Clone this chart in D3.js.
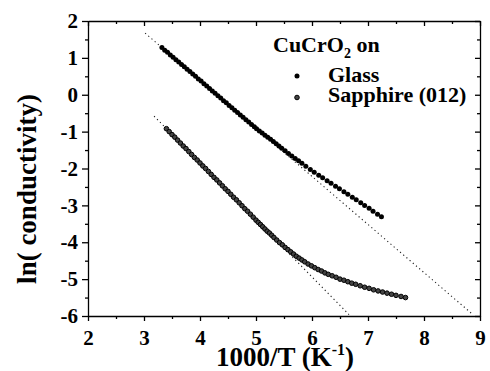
<!DOCTYPE html>
<html>
<head>
<meta charset="utf-8">
<script src="https://cdn.jsdelivr.net/npm/d3@7"></script>
<style>
  body { margin: 0; background: #fff; }
  svg { display: block; }
  text { font-family: "Liberation Serif", "Times New Roman", serif; font-weight: bold; fill: #000; }
</style>
</head>
<body>
<svg id="chart" width="490" height="371"></svg>
<script>
// values (x = 1000/T, y = ln conductivity)
const glassX = [3.32,3.37,3.42,3.47,3.52,3.57,3.62,3.67,3.72,3.77,3.82,3.87,3.92,3.97,4.02,4.07,4.12,4.17,4.22,4.27,4.32,4.37,4.42,4.47,4.52,4.57,4.62,4.67,4.72,4.77,4.82,4.87,4.92,4.97,
  5.01,5.06,5.11,5.16,5.21,5.26,5.31,5.36,5.41,5.46,5.52,5.58,5.64,5.70,5.76,5.82,5.89,5.97,6.04,6.12,6.19,6.27,6.34,6.42,6.49,6.57,6.64,6.72,6.79,6.87,6.94,7.02,7.09,7.17,7.24];
const glassY = [1.28,1.21,1.15,1.08,1.02,0.95,0.89,0.82,0.76,0.69,0.63,0.56,0.50,0.43,0.37,0.30,0.24,0.17,0.10,0.04,-0.03,-0.09,-0.16,-0.22,-0.29,-0.35,-0.42,-0.48,-0.55,-0.61,-0.68,-0.74,-0.81,-0.87,
  -0.92,-0.98,-1.04,-1.10,-1.15,-1.21,-1.27,-1.33,-1.39,-1.45,-1.52,-1.59,-1.66,-1.73,-1.79,-1.86,-1.94,-2.03,-2.10,-2.18,-2.25,-2.33,-2.40,-2.48,-2.55,-2.63,-2.70,-2.78,-2.85,-2.93,-3.00,-3.08,-3.16,-3.24,-3.31];

const sapphireX = [3.40,3.45,3.50,3.55,3.60,3.65,3.70,3.75,3.80,3.85,3.90,3.95,4.00,4.05,4.10,4.15,4.20,4.25,4.30,4.35,4.40,4.45,4.50,4.55,4.60,4.65,4.70,4.75,4.80,4.85,4.90,4.95,5.00,
  5.04,5.08,5.12,5.16,5.20,5.24,5.28,5.32,5.37,5.42,5.47,5.52,5.57,5.62,5.67,5.72,5.77,5.82,5.87,5.93,5.99,6.05,6.11,6.17,6.23,6.29,6.36,6.43,6.50,6.57,6.64,6.71,6.78,6.86,6.94,7.02,7.10,7.18,7.26,7.34,7.42,7.50,7.59,7.67];
const sapphireY = [-0.92,-1.00,-1.08,-1.15,-1.23,-1.31,-1.39,-1.46,-1.54,-1.62,-1.70,-1.77,-1.85,-1.93,-2.00,-2.08,-2.16,-2.24,-2.31,-2.39,-2.47,-2.55,-2.62,-2.70,-2.78,-2.85,-2.93,-3.01,-3.09,-3.16,-3.24,-3.32,-3.40,
  -3.46,-3.52,-3.58,-3.64,-3.70,-3.75,-3.81,-3.87,-3.94,-4.01,-4.07,-4.14,-4.20,-4.26,-4.32,-4.38,-4.43,-4.48,-4.53,-4.59,-4.64,-4.69,-4.74,-4.78,-4.83,-4.87,-4.91,-4.95,-5.00,-5.03,-5.07,-5.11,-5.14,-5.18,-5.22,-5.25,-5.29,-5.32,-5.35,-5.38,-5.41,-5.44,-5.47,-5.50];

// straight-line (Arrhenius) fits, end points
const glassFitX = [3.02, 8.88];
const glassFitY = [1.67, -5.97];
const sapphireFitX = [3.18, 6.66];
const sapphireFitY = [-0.58, -5.96];

const xTicks = [2, 3, 4, 5, 6, 7, 8, 9];
const xMinor = [2.5, 3.5, 4.5, 5.5, 6.5, 7.5, 8.5];
const yTicks = [-6, -5, -4, -3, -2, -1, 0, 1, 2];
const yMinor = [-5.5, -4.5, -3.5, -2.5, -1.5, -0.5, 0.5, 1.5];

const margin = {left: 88, top: 21, right: 10, bottom: 55};
const width = 490 - margin.left - margin.right;
const height = 371 - margin.top - margin.bottom;

const svg = d3.select("#chart");
const g = svg.append("g").attr("transform", "translate(" + margin.left + "," + margin.top + ")");

const x = d3.scaleLinear().domain([2, 9]).range([0, width]);
const y = d3.scaleLinear().domain([-6, 2]).range([height, 0]);

// fit lines
function fitLine(xs, ys) {
  g.append("line")
    .attr("x1", x(xs[0])).attr("y1", y(ys[0]))
    .attr("x2", x(xs[1])).attr("y2", y(ys[1]))
    .attr("stroke", "#222")
    .attr("stroke-width", 1.1)
    .attr("stroke-dasharray", "1.2,3");
}
fitLine(glassFitX, glassFitY);
fitLine(sapphireFitX, sapphireFitY);

// data points
g.append("g").selectAll("circle")
  .data(sapphireX.map((v, i) => [v, sapphireY[i]]))
  .enter().append("circle")
  .attr("cx", d => x(d[0])).attr("cy", d => y(d[1]))
  .attr("r", 2.3)
  .attr("fill", "#444")
  .attr("stroke", "#000")
  .attr("stroke-width", 1);

g.append("g").selectAll("circle")
  .data(glassX.map((v, i) => [v, glassY[i]]))
  .enter().append("circle")
  .attr("cx", d => x(d[0])).attr("cy", d => y(d[1]))
  .attr("r", 2.5)
  .attr("fill", "#000");

// axes
function styleAxis(sel, size) {
  sel.attr("font-family", "Liberation Serif")
    .attr("font-weight", "bold")
    .attr("font-size", size);
  sel.selectAll("path, line").attr("stroke", "#000").attr("stroke-width", 1.3);
  sel.selectAll("text")
    .attr("font-family", "Liberation Serif")
    .attr("font-weight", "bold")
    .attr("font-size", size);
}
const fmt = d => String(d);

g.append("g").attr("transform", "translate(0," + height + ")")
  .call(d3.axisBottom(x).tickValues(xTicks).tickSize(5).tickSizeOuter(0).tickPadding(9).tickFormat(fmt))
  .call(s => styleAxis(s, 21));
g.append("g").attr("transform", "translate(0," + height + ")")
  .call(d3.axisBottom(x).tickValues(xMinor).tickSize(3).tickFormat(""))
  .call(s => { styleAxis(s, 10); s.select(".domain").remove(); });

g.append("g")
  .call(d3.axisLeft(y).tickValues(yTicks).tickSize(6).tickSizeOuter(0).tickPadding(4).tickFormat(fmt))
  .call(s => styleAxis(s, 21));
g.append("g")
  .call(d3.axisLeft(y).tickValues(yMinor).tickSize(3).tickFormat(""))
  .call(s => { styleAxis(s, 10); s.select(".domain").remove(); });

// mirrored top / right axes, ticks inside
g.append("g")
  .call(d3.axisBottom(x).tickValues(xTicks).tickSize(5).tickSizeOuter(0).tickFormat(""))
  .call(s => styleAxis(s, 10));
g.append("g")
  .call(d3.axisBottom(x).tickValues(xMinor).tickSize(3).tickFormat(""))
  .call(s => { styleAxis(s, 10); s.select(".domain").remove(); });
g.append("g").attr("transform", "translate(" + width + ",0)")
  .call(d3.axisLeft(y).tickValues(yTicks).tickSize(5).tickSizeOuter(0).tickFormat(""))
  .call(s => styleAxis(s, 10));
g.append("g").attr("transform", "translate(" + width + ",0)")
  .call(d3.axisLeft(y).tickValues(yMinor).tickSize(3).tickFormat(""))
  .call(s => { styleAxis(s, 10); s.select(".domain").remove(); });

// axis titles
svg.append("text")
  .attr("transform", "translate(36,189) rotate(-90)")
  .attr("text-anchor", "middle")
  .style("font-size", "27px")
  .text("ln( conductivity)");

const xt = svg.append("text")
  .attr("x", margin.left + width / 2 + 1)
  .attr("y", 366)
  .attr("text-anchor", "middle")
  .style("font-size", "27px");
xt.append("tspan").text("1000/T (K");
xt.append("tspan").attr("dy", -11).style("font-size", "16px").text("-1");
xt.append("tspan").attr("dy", 11).text(")");

// legend
const lg = svg.append("text").attr("x", 273).attr("y", 52).style("font-size", "22px");
lg.append("tspan").text("CuCrO");
lg.append("tspan").attr("dy", 6).style("font-size", "14px").text("2");
lg.append("tspan").attr("dy", -6).text(" on");

svg.append("circle").attr("cx", 297).attr("cy", 76).attr("r", 2.5).attr("fill", "#000");
svg.append("circle").attr("cx", 297).attr("cy", 97.5).attr("r", 2.3)
  .attr("fill", "#444").attr("stroke", "#000").attr("stroke-width", 1);
svg.append("text").attr("x", 328).attr("y", 82).style("font-size", "22px").text("Glass");
svg.append("text").attr("x", 328).attr("y", 102).style("font-size", "22px").text("Sapphire (012)");
</script>
</body>
</html>
